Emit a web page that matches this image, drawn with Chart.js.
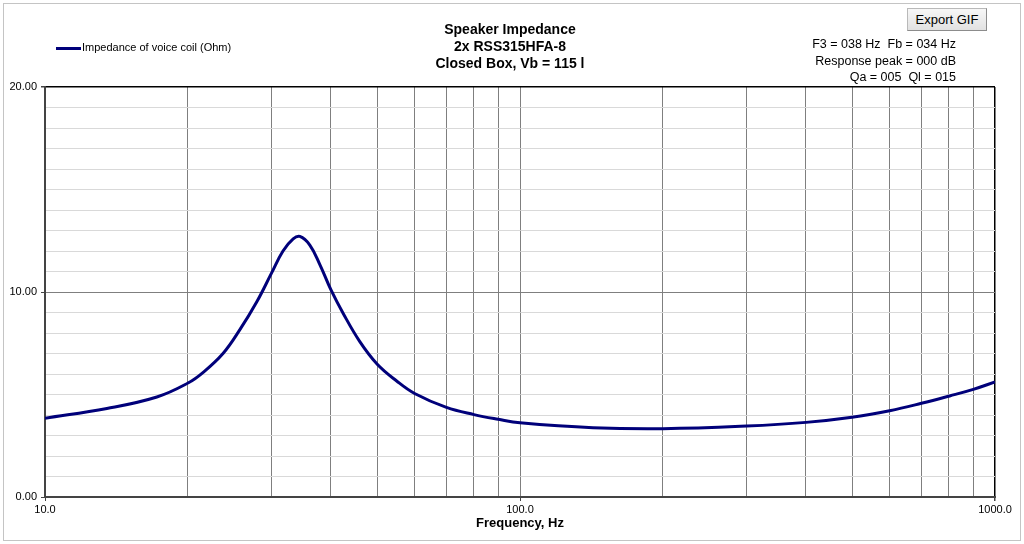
<!DOCTYPE html>
<html>
<head>
<meta charset="utf-8">
<title>Speaker Impedance</title>
<script src="https://cdn.jsdelivr.net/npm/chart.js@4/dist/chart.umd.min.js"></script>
<style>
  body { margin: 0; width: 1024px; height: 544px; position: relative; overflow: hidden; background: #fff;
         font-family: "Liberation Sans", Arial, sans-serif; color: #000; }
  .panel { position: absolute; left: 3px; top: 3px; width: 1016px; height: 536px; border: 1px solid #c4c4c4; }
  #wrap { position: absolute; left: 0; top: 0; width: 1024px; height: 544px; }
  .title { position: absolute; left: 360px; width: 300px; top: 21px; text-align: center;
           font-weight: bold; font-size: 14px; line-height: 17px; }
  .legend { position: absolute; left: 56px; top: 40px; font-size: 11px; line-height: 14px; }
  .legend span.swatch { display: inline-block; width: 25px; height: 3px; background: #00007a; vertical-align: middle; margin-right: 1px; }
  .stats { position: absolute; right: 68px; top: 36px; text-align: right; font-size: 12.5px; line-height: 16.5px; white-space: pre; }
  .btn { position: absolute; left: 907px; top: 8px; width: 80px; height: 23px; box-sizing: border-box;
         background: linear-gradient(#f7f7f7, #e1e1e1); border: 1px solid #b9b9b9; border-right-color: #8c8c8c; border-bottom-color: #8c8c8c;
         font-size: 13px; line-height: 21px; text-align: center; }
</style>
</head>
<body>
<div class="panel"></div>
<div id="wrap"><canvas id="impChart" width="1024" height="544"></canvas></div>
<div class="title" id="title"></div>
<div class="legend" id="legend"></div>
<div class="stats" id="stats"></div>
<div class="btn">Export GIF</div>
<script>
// Values
const titleLines = ['Speaker Impedance', '2x RSS315HFA-8', 'Closed Box, Vb = 115 l'];
const seriesLabel = 'Impedance of voice coil (Ohm)';
const statLines = ['F3 = 038 Hz  Fb = 034 Hz', 'Response peak = 000 dB', 'Qa = 005  Ql = 015'];

const frequencies = [10, 13.5, 17.2, 20, 21.5, 23.7, 25.7, 27.9, 30, 31.7, 33.3, 34.4, 36.1, 37.9,
                     40, 42.5, 46, 50, 55, 60, 70, 80, 90, 100, 142.5, 200, 300, 400, 500, 600, 700, 803, 900, 1000];
const impedance = [3.84, 4.32, 4.88, 5.56, 6.07, 7.0, 8.15, 9.51, 10.93, 12.0, 12.59, 12.71, 12.29, 11.34,
                   10.1, 8.93, 7.58, 6.49, 5.66, 5.05, 4.37, 4.02, 3.79, 3.62, 3.38, 3.33, 3.46, 3.64, 3.89, 4.21, 4.57, 4.93, 5.25, 5.61];

const xTicks = [10, 20, 30, 40, 50, 60, 70, 80, 90, 100, 200, 300, 400, 500, 600, 700, 800, 900, 1000];
const xLabelTicks = [10, 100, 1000];
const yTicks = [0, 1, 2, 3, 4, 5, 6, 7, 8, 9, 10, 11, 12, 13, 14, 15, 16, 17, 18, 19, 20];
const yLabelTicks = [0, 10, 20];

// Text around the chart
document.getElementById('title').innerHTML = titleLines.join('<br>');
document.getElementById('legend').innerHTML = '<span class="swatch"></span>' + seriesLabel;
document.getElementById('stats').textContent = statLines.join('\n');

const tickFont = { family: '"Liberation Sans", Arial, sans-serif', size: 11 };

const renderImpedanceChart = () => {
    var ctx = document.getElementById('impChart').getContext('2d');
    var myChart = new Chart(ctx, {
        type: 'line',
        data: {
            datasets: [{
                label: seriesLabel,
                data: frequencies.map((f, i) => ({ x: f, y: impedance[i] })),
                borderColor: '#00007a',
                borderWidth: 3,
                pointRadius: 0,
                tension: 0.4,
                fill: false
            }]
        },
        options: {
            responsive: false,
            animation: false,
            layout: { padding: { top: 87, right: 29, bottom: 0, left: 0 } },
            plugins: {
                legend: { display: false },
                title: { display: false },
                tooltip: { enabled: false }
            },
            scales: {
                x: {
                    type: 'logarithmic',
                    min: 10,
                    max: 1000,
                    afterBuildTicks: s => { s.ticks = xTicks.map(v => ({ value: v })); },
                    afterFit: s => { s.height = 47; },
                    ticks: {
                        autoSkip: false,
                        maxRotation: 0,
                        padding: 2,
                        color: '#000',
                        font: tickFont,
                        callback: v => xLabelTicks.includes(v) ? v.toFixed(1) : ''
                    },
                    grid: {
                        color: c => c.tick && c.tick.value === 1000 ? '#000' : '#7f7f7f',
                        lineWidth: c => c.tick && c.tick.value === 1000 ? 1.5 : 1,
                        tickLength: 4,
                        tickColor: c => c.tick && xLabelTicks.includes(c.tick.value) ? '#444' : 'rgba(0,0,0,0)'
                    },
                    border: { color: '#444', width: 2 },
                    title: {
                        display: true,
                        text: 'Frequency, Hz',
                        color: '#000',
                        font: { family: '"Liberation Sans", Arial, sans-serif', size: 13, weight: 'bold' },
                        padding: { top: 0, bottom: 13 }
                    }
                },
                y: {
                    min: 0,
                    max: 20,
                    afterBuildTicks: s => { s.ticks = yTicks.map(v => ({ value: v })); },
                    afterFit: s => { s.width = 45; },
                    ticks: {
                        autoSkip: false,
                        padding: 4,
                        color: '#000',
                        font: tickFont,
                        callback: v => yLabelTicks.includes(v) ? v.toFixed(2) : ''
                    },
                    grid: {
                        color: c => {
                            if (!c.tick) return '#d9d9d9';
                            if (c.tick.value === 20) return '#000';
                            if (c.tick.value === 10) return '#7f7f7f';
                            return '#d9d9d9';
                        },
                        lineWidth: c => c.tick && c.tick.value === 20 ? 1.5 : 1,
                        tickLength: 4,
                        tickColor: c => c.tick && yLabelTicks.includes(c.tick.value) ? '#444' : 'rgba(0,0,0,0)'
                    },
                    border: { color: '#444', width: 2 }
                }
            }
        }
    });
};

document.addEventListener('DOMContentLoaded', function() {
    renderImpedanceChart();
});
</script>
</body>
</html>
